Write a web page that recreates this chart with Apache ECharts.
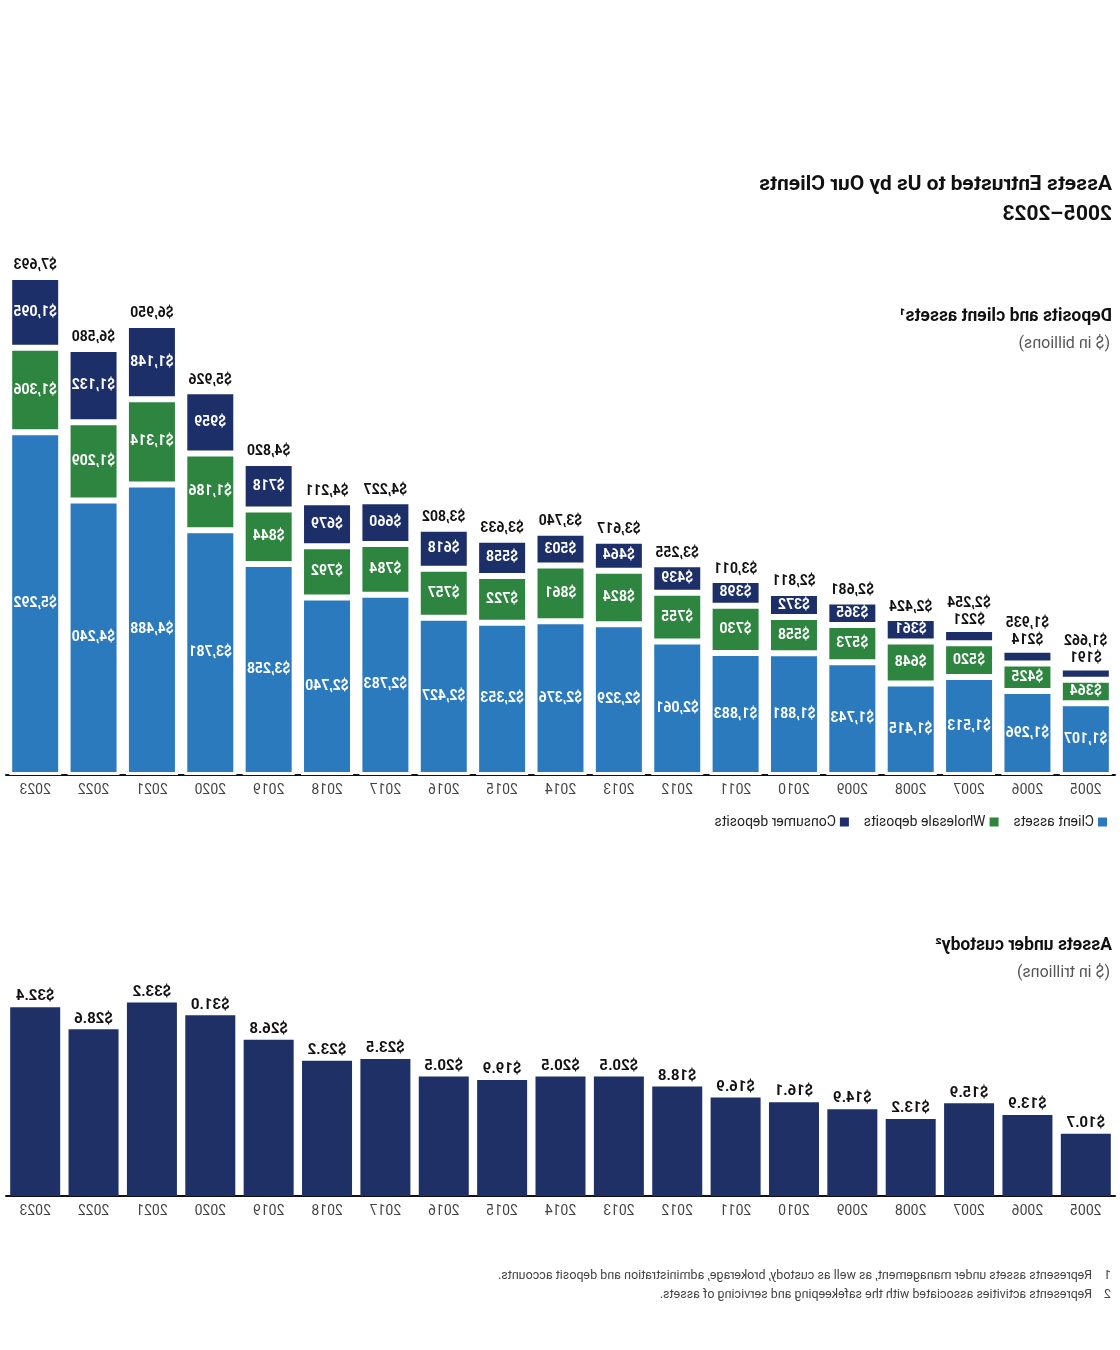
<!DOCTYPE html>
<html>
<head>
<meta charset="utf-8">
<script src="https://cdn.jsdelivr.net/npm/echarts@6/dist/echarts.min.js"></script>
<style>
html,body{margin:0;padding:0;background:#fff;}
#wrap{width:1120px;height:1350px;transform:scaleX(-1);transform-origin:center;}
#chart{width:1120px;height:1350px;}
</style>
</head>
<body>
<div id="wrap"><div id="chart"></div></div>
<script>
const years = ['2005','2006','2007','2008','2009','2010','2011','2012','2013','2014','2015','2016','2017','2018','2019','2020','2021','2022','2023'];
const clientAssets = [1107,1296,1513,1415,1743,1881,1883,2061,2329,2376,2353,2427,2783,2740,3258,3781,4488,4240,5292];
const wholesaleDeposits = [364,425,520,648,573,558,730,755,824,861,722,757,784,792,844,1186,1314,1209,1306];
const consumerDeposits = [191,214,221,361,365,372,398,439,464,503,558,618,660,679,718,959,1148,1132,1095];
const totals = [1662,1935,2254,2424,2681,2811,3011,3255,3617,3740,3633,3802,4227,4211,4820,5926,6950,6580,7693];
const custody = [10.7,13.9,15.9,13.2,14.9,16.1,16.9,18.8,20.5,20.5,19.9,20.5,23.5,23.2,26.8,31.0,33.2,28.6,32.4];

const FONT = 'Roboto, "Noto Sans", sans-serif';
const C_CLIENT = '#2a7abd';
const C_WHOLE = '#2e8540';
const C_CONS = '#1d2f68';
const C_CUST = '#1f3067';

const fmt = v => '$' + v.toLocaleString('en-US');
const SMALL = 250;

const chart = echarts.init(document.getElementById('chart'), null, {renderer:'canvas', width:1120, height:1350});

const insideLabel = {show:true, position:'inside', color:'#fff', fontWeight:'bold', fontSize:14, fontFamily:FONT, formatter:p=>fmt(p.value)};
const segStyle = c => ({color:c, borderColor:'#fff', borderWidth:3});

const consumerData = consumerDeposits.map(v => v < SMALL
  ? {value:v, label:{position:'top', color:'#111', distance:2}}
  : {value:v});
const totalData = totals.map((t,i) => ({value:0, tot:t, label:{distance: consumerDeposits[i] < SMALL ? 19 : 4}}));

const option = {
  animation:false,
  textStyle:{fontFamily:FONT},
  graphic:[
    {type:'text', left:8, top:174, style:{text:'Assets Entrusted to Us by Our Clients', font:'bold 21px '+FONT, fill:'#111'}},
    {type:'text', left:8, top:204, style:{text:'2005\u20132023', font:'bold 21px '+FONT, fill:'#111'}},
    {type:'text', left:8, top:308, style:{text:'Deposits and client assets\u00b9', font:'bold 17.5px '+FONT, fill:'#111'}},
    {type:'text', left:10, top:336, style:{text:'($ in billions)', font:'16px '+FONT, fill:'#555'}},
    {type:'text', left:8, top:937, style:{text:'Assets under custody\u00b2', font:'bold 17.5px '+FONT, fill:'#111'}},
    {type:'text', left:10, top:965, style:{text:'($ in trillions)', font:'16px '+FONT, fill:'#555'}},
    {type:'text', left:9, top:1269, style:{text:'1', font:'12.5px '+FONT, fill:'#444'}},
    {type:'text', left:28, top:1269, style:{text:'Represents assets under management, as well as custody, brokerage, administration and deposit accounts.', font:'12.5px '+FONT, fill:'#444'}},
    {type:'text', left:9, top:1288, style:{text:'2', font:'12.5px '+FONT, fill:'#444'}},
    {type:'text', left:28, top:1288, style:{text:'Represents activities associated with the safekeeping and servicing of assets.', font:'12.5px '+FONT, fill:'#444'}}
  ],
  legend:{
    left:6, top:810, icon:'rect', itemWidth:11, itemHeight:11, itemGap:13,
    textStyle:{fontSize:14, color:'#222', fontFamily:FONT, padding:[0,0,0,-2]},
    data:['Client assets','Wholesale deposits','Consumer deposits']
  },
  grid:[
    {left:5, right:6, top:257, bottom:575},
    {left:5, right:6, top:992, bottom:154}
  ],
  xAxis:[
    {type:'category', gridIndex:0, data:years, axisLine:{lineStyle:{color:'#111', width:2}}, axisTick:{show:false},
     axisLabel:{color:'#444', fontSize:14, margin:8, fontFamily:FONT}},
    {type:'category', gridIndex:1, data:years, axisLine:{lineStyle:{color:'#111', width:2}}, axisTick:{show:false},
     axisLabel:{color:'#444', fontSize:14, margin:8, fontFamily:FONT}}
  ],
  yAxis:[
    {type:'value', gridIndex:0, min:0, max:8000, show:false},
    {type:'value', gridIndex:1, min:0, max:35, show:false}
  ],
  series:[
    {name:'Client assets', type:'bar', stack:'dep', xAxisIndex:0, yAxisIndex:0, barWidth:52, itemStyle:segStyle(C_CLIENT), label:insideLabel, data:clientAssets},
    {name:'Wholesale deposits', type:'bar', stack:'dep', xAxisIndex:0, yAxisIndex:0, barWidth:52, itemStyle:segStyle(C_WHOLE), label:insideLabel, data:wholesaleDeposits},
    {name:'Consumer deposits', type:'bar', stack:'dep', xAxisIndex:0, yAxisIndex:0, barWidth:52, itemStyle:segStyle(C_CONS), label:insideLabel, data:consumerData},
    {name:'Total', type:'bar', stack:'dep', xAxisIndex:0, yAxisIndex:0, barWidth:52, itemStyle:{color:'rgba(0,0,0,0)', borderWidth:0},
     label:{show:true, position:'top', color:'#111', fontWeight:'bold', fontSize:14, fontFamily:FONT, formatter:p=>fmt(p.data.tot)},
     data:totalData, silent:true},
    {name:'Assets under custody', type:'bar', xAxisIndex:1, yAxisIndex:1, barWidth:50, itemStyle:{color:C_CUST},
     label:{show:true, position:'top', distance:3, color:'#111', fontWeight:'bold', fontSize:15, fontFamily:FONT, formatter:p=>'$'+p.value.toFixed(1)},
     data:custody}
  ]
};
chart.setOption(option);
</script>
</body>
</html>
